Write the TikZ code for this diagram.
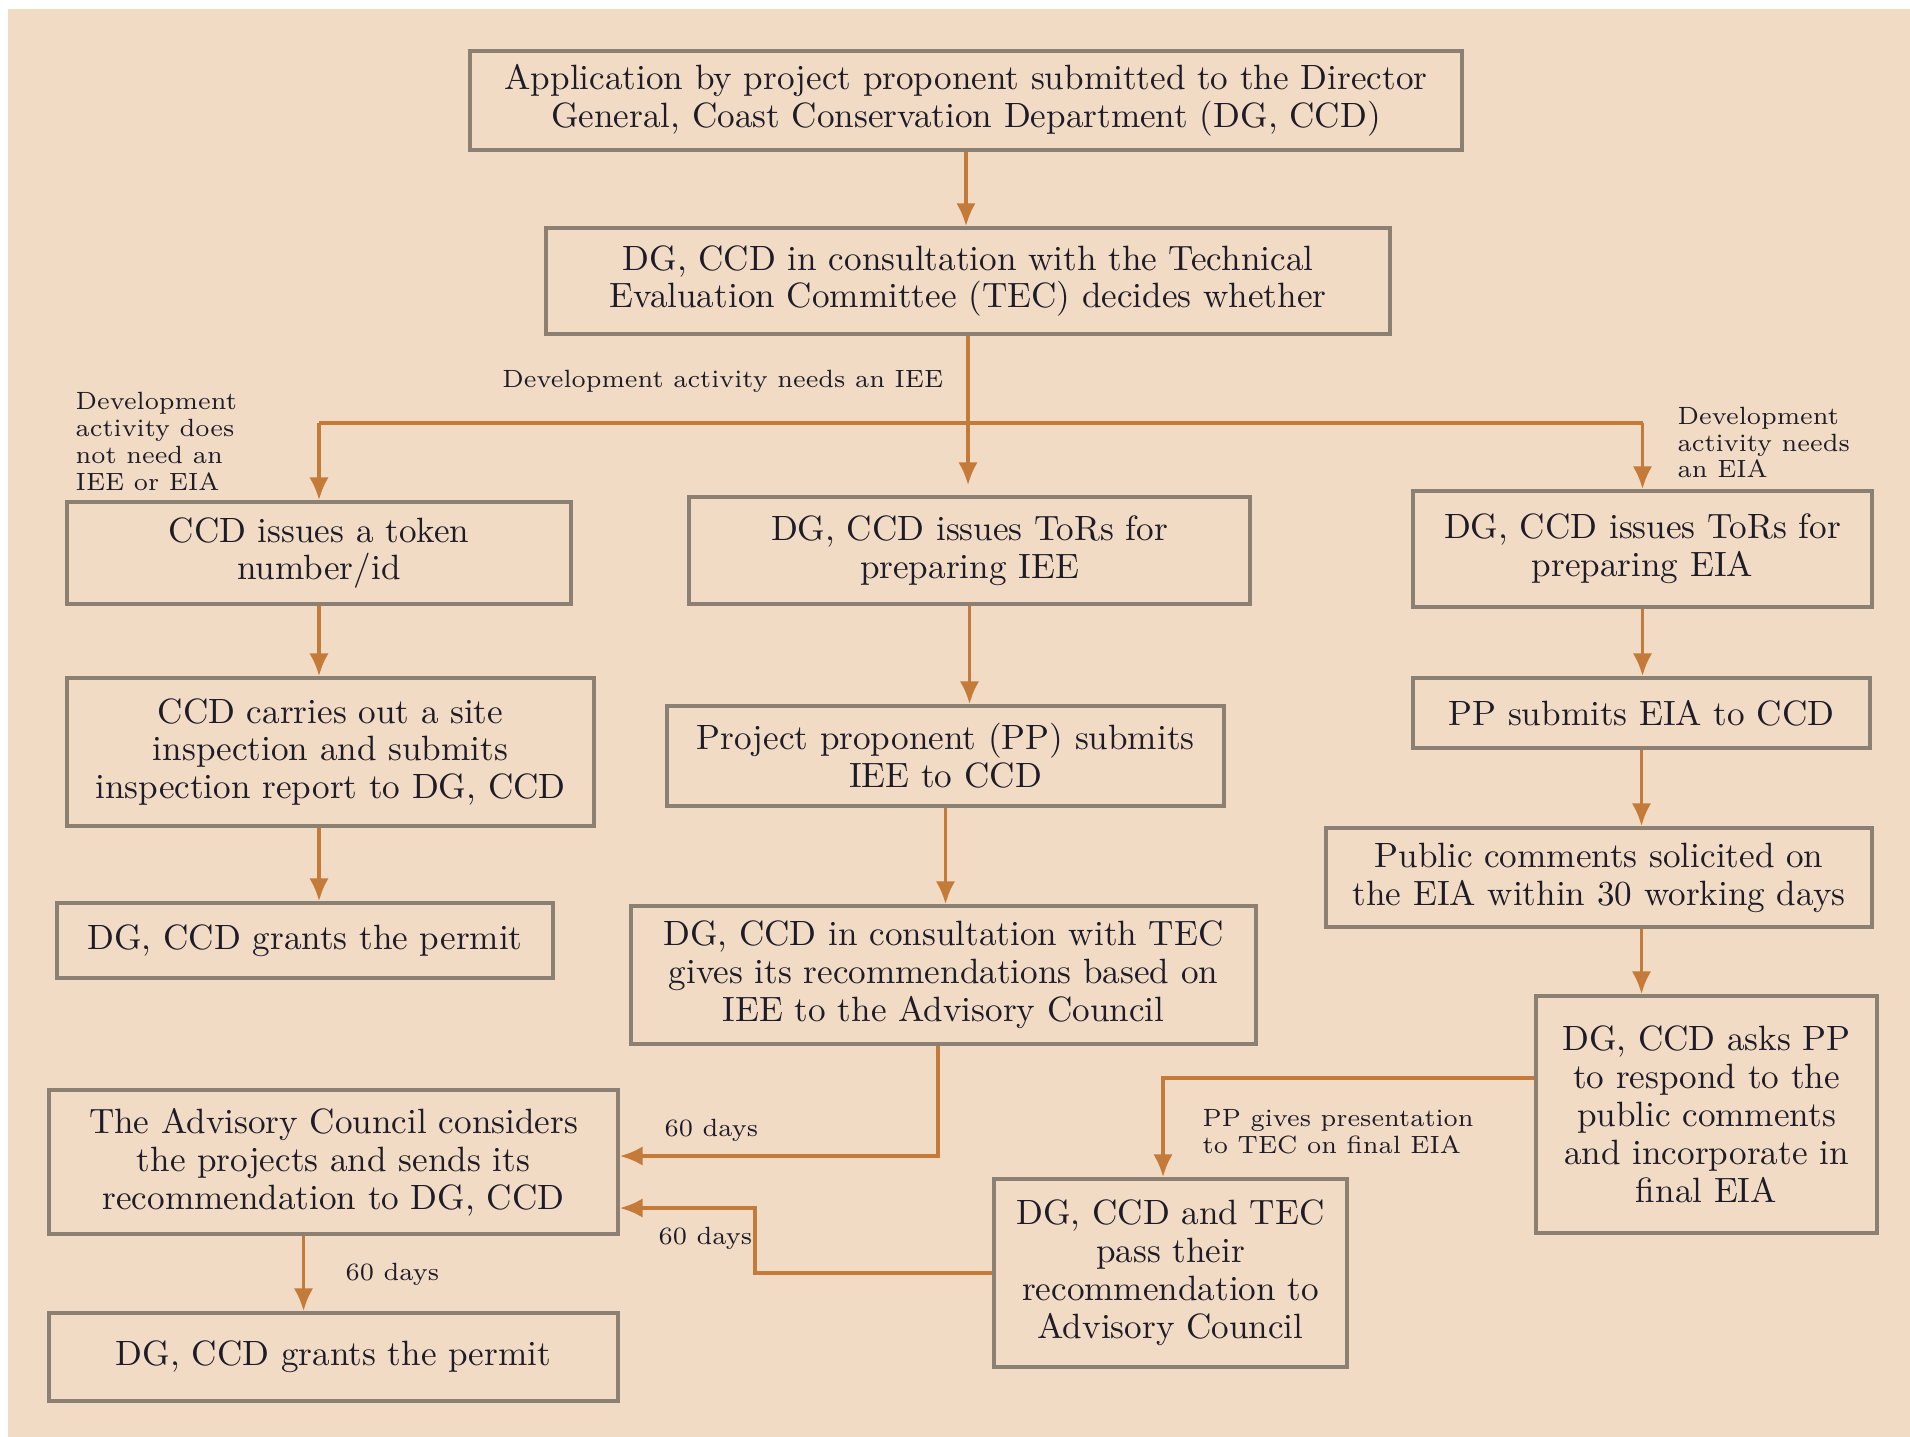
\documentclass[tikz,border=0pt]{standalone}
\usetikzlibrary{arrows.meta}
\definecolor{paper}{RGB}{241,219,196}
\definecolor{frame}{RGB}{140,128,114}
\definecolor{flowc}{RGB}{196,122,56}
\definecolor{ink}{RGB}{30,28,40}
\tikzset{%
    stage/.style={draw=frame,line width=1pt,shape=rectangle,inner sep=0pt,align=center,text=ink,font=\fontsize{10}{10.8}\selectfont},
    flow/.style={->,>={Latex[length=6.5pt,width=5.5pt]},draw=flowc,line width=1.1pt},
    line/.style={draw=flowc,line width=1.1pt},
    note/.style={inner sep=0pt,align=left,text=ink,font=\fontsize{7.1}{7.6}\selectfont},
}

\begin{document}
\begin{tikzpicture}

	\useasboundingbox (0,0) rectangle (19.10,-14.37);
	\fill[paper] (0.08,-0.09) rectangle (19.10,-14.37);

	%top boxes
	\node[stage,minimum width=9.92cm,minimum height=0.99cm] (appl) at (9.66,-1.005) {Application by project proponent submitted to the Director\\ General, Coast Conservation Department (DG, CCD)};
	\node[stage,minimum width=8.44cm,minimum height=1.06cm] (tecdec) at (9.68,-2.81) {DG, CCD in consultation with the Technical\\ Evaluation Committee (TEC) decides whether};

	%left branch
	\node[stage,minimum width=5.04cm,minimum height=1.02cm] (token) at (3.19,-5.53) {CCD issues a token\\ number/id};
	\node[stage,minimum width=5.27cm,minimum height=1.48cm] (site) at (3.305,-7.52) {CCD carries out a site\\ inspection and submits\\ inspection report to DG, CCD};
	\node[stage,minimum width=4.96cm,minimum height=0.75cm] (permitA) at (3.05,-9.405) {DG, CCD grants the permit};
	\node[stage,minimum width=5.69cm,minimum height=1.44cm] (council) at (3.335,-11.62) {The Advisory Council considers\\ the projects and sends its\\ recommendation to DG, CCD};
	\node[stage,minimum width=5.69cm,minimum height=0.88cm] (permitB) at (3.335,-13.57) {DG, CCD grants the permit};

	%middle branch
	\node[stage,minimum width=5.61cm,minimum height=1.07cm] (torIEE) at (9.695,-5.505) {DG, CCD issues ToRs for\\ preparing IEE};
	\node[stage,minimum width=5.57cm,minimum height=1.00cm] (ppIEE) at (9.455,-7.56) {Project proponent (PP) submits\\ IEE to CCD};
	\node[stage,minimum width=6.25cm,minimum height=1.38cm] (tecIEE) at (9.435,-9.75) {DG, CCD in consultation with TEC\\ gives its recommendations based on\\ IEE to the Advisory Council};
	\node[stage,minimum width=3.53cm,minimum height=1.88cm] (tecEIA) at (11.705,-12.73) {DG, CCD and TEC\\ pass their\\ recommendation to\\ Advisory Council};

	%right branch
	\node[stage,minimum width=4.59cm,minimum height=1.16cm] (torEIA) at (16.425,-5.49) {DG, CCD issues ToRs for\\ preparing EIA};
	\node[stage,minimum width=4.57cm,minimum height=0.70cm] (ppEIA) at (16.415,-7.13) {PP submits EIA to CCD};
	\node[stage,minimum width=5.46cm,minimum height=0.99cm] (public) at (15.99,-8.775) {Public comments solicited on\\ the EIA within 30 working days};
	\node[stage,minimum width=3.41cm,minimum height=2.37cm] (respond) at (17.065,-11.145) {DG, CCD asks PP\\ to respond to the\\ public comments\\ and incorporate in\\ final EIA};

	%labels
	\node[note,anchor=east] (needIEE) at (9.44,-3.81) {Development activity needs an IEE};
	\node[note,anchor=west] (noneed) at (0.75,-4.415) {Development\\ activity does\\ not need an\\ IEE or EIA};
	\node[note,anchor=west] (needEIA) at (16.77,-4.425) {Development\\ activity needs\\ an EIA};
	\node[note,anchor=west] (present) at (12.02,-11.315) {PP gives presentation\\ to TEC on final EIA};
	\node[note,anchor=west] (daysA) at (6.64,-11.30) {60 days};
	\node[note,anchor=west] (daysB) at (6.58,-12.38) {60 days};
	\node[note,anchor=west] (daysC) at (3.45,-12.74) {60 days};

	%split after the decision
	\coordinate (split) at (9.66,-4.23);
	\draw[flow] (appl.south) -- (appl.south |- tecdec.north);
	\draw[line] (tecdec.south) -- (tecdec.south |- split);
	\draw[line] (token.north |- split) -- (torEIA.north |- split);
	\draw[flow] (token.north |- split) -- (token.north);
	\draw[flow] (tecdec.south |- split) -- ([yshift=0.1cm]tecdec.south |- torIEE.north);
	\draw[flow] (torEIA.north |- split) -- (torEIA.north);
	%%%%%%%%%%%%%%%%%%%

	\draw[flow] (token.south) -- (token.south |- site.north);
	\draw[flow] (site.south -| token) -- (permitA.north -| token);
	\draw[flow] ([xshift=-0.3cm]council.south) -- ([xshift=-0.3cm]council.south |- permitB.north);

	\draw[flow] (torIEE.south) -- (torIEE.south |- ppIEE.north);
	\draw[flow] (ppIEE.south) -- (ppIEE.south |- tecIEE.north);
	\draw[flow] ([xshift=-0.055cm]tecIEE.south) |- ([yshift=0.06cm]council.east);

	\draw[flow] (torEIA.south) -- (torEIA.south |- ppEIA.north);
	\draw[flow] (ppEIA.south) -- (ppEIA.south |- public.north);
	\draw[flow] (ppEIA.south |- public.south) -- (ppEIA.south |- respond.north);
	\draw[flow] ([yshift=0.365cm]respond.west) -| ([xshift=-0.075cm]tecEIA.north);

	%back to the council
	\coordinate (back) at (7.55,-12.08);
	\draw[flow] (tecEIA.west) -| (back) -- (back -| council.east);
	%%%%%%%%%%%%%%%%%%%%

\end{tikzpicture}
\end{document}
